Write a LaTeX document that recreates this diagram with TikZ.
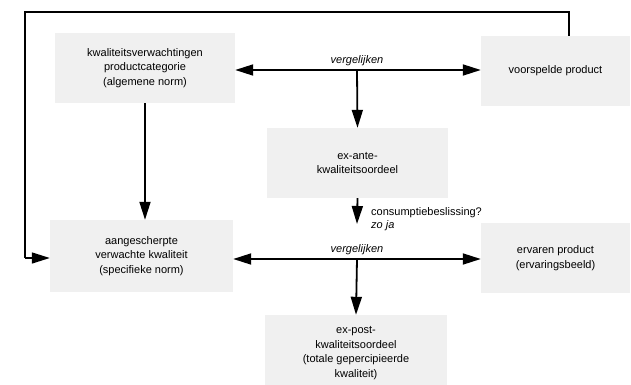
\documentclass[tikz,border=0pt]{standalone}
\usepackage{fontspec}
\setmainfont{Liberation Sans}
\usetikzlibrary{arrows.meta}
\definecolor{boxgray}{gray}{0.94}
\tikzset{
  box/.style={fill=boxgray, align=center, inner sep=0pt,
    font=\fontsize{11}{14.5}\selectfont},
  arr/.style={line width=1.8pt, -{Triangle[length=18pt,width=11pt]}},
  feed/.style={line width=1.5pt},
  lbl/.style={font=\fontsize{11}{13}\selectfont, inner sep=0pt},
}
\begin{document}
\begin{tikzpicture}[x=1pt,y=-1pt]
  \useasboundingbox[fill=white] (0,0) rectangle (631,385);

  % boxes
  \node[box, minimum width=180pt, minimum height=70pt] (algnorm) at (145,68)
    {kwaliteitsverwachtingen\\productcategorie\\(algemene norm)};
  \node[box, minimum width=149pt, minimum height=70pt] (voorsp) at (555.5,71)
    {voorspelde product};
  \node[box, minimum width=181pt, minimum height=70pt] (exante) at (357.5,163)
    {ex-ante-\\kwaliteitsoordeel};
  \node[box, minimum width=183pt, minimum height=72pt] (specnorm) at (141.5,256)
    {aangescherpte\\verwachte kwaliteit\\(specifieke norm)};
  \node[box, minimum width=149pt, minimum height=70pt] (ervaren) at (555.5,258)
    {ervaren product\\(ervaringsbeeld)};
  \node[box, minimum width=182pt, minimum height=76pt] (expost) at (356,353)
    {ex-post-\\kwaliteitsoordeel\\(totale gepercipieerde\\kwaliteit)};

  % junctions of the comparison arrows
  \coordinate (cmpA) at (357,70);
  \coordinate (cmpB) at (357,259);
  \coordinate (beslis) at (357,224);

  % upper comparison
  \draw[arr] (cmpA) -- (algnorm.east |- cmpA);
  \draw[arr] (cmpA) -- (voorsp.west |- cmpA);
  \draw[arr] (cmpA) -- (exante.north);
  \node[lbl, font=\fontsize{11}{13}\selectfont\itshape] (vglA) at (357,61) {vergelijken};

  % general norm to specific norm
  \draw[arr] (algnorm.south) -- (algnorm.south |- specnorm.north);

  % consumption decision
  \draw[arr] (exante.south) -- (beslis);
  \node[lbl, anchor=west, align=left] (beslislbl) at (371,219)
    {consumptiebeslissing?\\\textit{zo ja}};

  % lower comparison
  \draw[arr] (cmpB) -- (specnorm.east |- cmpB);
  \draw[arr] (cmpB) -- (ervaren.west |- cmpB);
  \draw[arr] (cmpB) -- (expost.north);
  \node[lbl, font=\fontsize{11}{13}\selectfont\itshape] (vglB) at (357,250) {vergelijken};

  % feedback from predicted product to specific norm
  \coordinate (fbR) at (569,12);
  \coordinate (fbL) at (25,12);
  \coordinate (fbB) at (25,258);
  \draw[feed] (voorsp.north -| fbR) -- (fbR) -- (fbL) -- (fbB);
  \draw[arr, line width=1.5pt] (fbB) -- (specnorm.west |- fbB);
\end{tikzpicture}
\end{document}
